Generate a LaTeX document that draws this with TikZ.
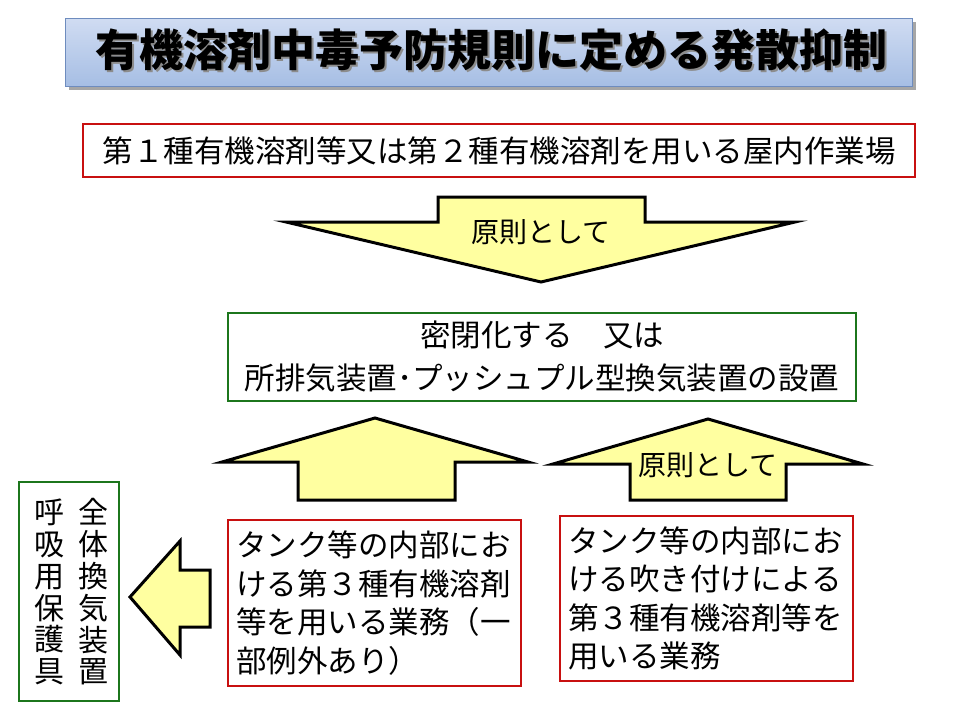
\documentclass[tikz,border=0pt]{standalone}
\usepackage{fontspec}
\setmainfont{Noto Sans CJK JP}
\definecolor{boxred}{RGB}{200,16,16}
\definecolor{boxgreen}{RGB}{28,118,28}
\definecolor{arrowyellow}{RGB}{255,255,160}
\definecolor{titletop}{RGB}{208,220,242}
\definecolor{titlebot}{RGB}{166,190,228}
\definecolor{titleedge}{RGB}{110,140,190}
\newcommand\titlefont{\fontsize{44}{48}\selectfont\bfseries}
\newcommand\boxfont{\fontsize{30.5}{38.5}\selectfont}
\newcommand\arrowfont{\fontsize{28}{32}\selectfont}
\tikzset{
  redbox/.style={draw=boxred, line width=2.5pt, fill=white},
  greenbox/.style={draw=boxgreen, line width=2.5pt, fill=white},
  blockarrow/.style={draw=black, line width=3pt, fill=arrowyellow, line join=miter},
}

\begin{document}
\begin{tikzpicture}[x=1pt,y=-1pt]
\useasboundingbox (0,0) rectangle (960,720);

% title bar
\fill [black!35] (69,22) rectangle (916,90);
\shade [top color=titletop, bottom color=titlebot, draw=titleedge, line width=1pt]
  (65,18) rectangle (912,86);
\node [text=black!45, font=\titlefont] at (493,52) {有機溶剤中毒予防規則に定める発散抑制};
\node (title) [font=\titlefont] at (491,50) {有機溶剤中毒予防規則に定める発散抑制};

% workplace
\node (place) [redbox, minimum width=832pt, minimum height=53pt, font=\boxfont]
  at (499,150.5) {第１種有機溶剤等又は第２種有機溶剤を用いる屋内作業場};

% down arrow
\filldraw [blockarrow] (438,197) -- (645,197) -- (645,222) -- (795,222)
  -- (541,282) -- (286,222) -- (438,222) -- cycle;
\node (rule1) [font=\arrowfont] at (541,232) {原則として};

% main measure
\node (measure) [greenbox, minimum width=628pt, minimum height=88pt,
  align=center, inner sep=0pt, font=\fontsize{30.5}{43}\selectfont] at (542,357)
  {密閉化する　又は\\所排気装置･プッシュプル型換気装置の設置};

% up arrows
\filldraw [blockarrow] (298,500) -- (298,462) -- (222,462) -- (375,418)
  -- (528,462) -- (455,462) -- (455,500) -- cycle;
\filldraw [blockarrow] (630,500) -- (630,464) -- (553,464) -- (708,419)
  -- (863,464) -- (786,464) -- (786,500) -- cycle;
\node (rule2) [font=\arrowfont] at (708,465) {原則として};

% exceptions
\node (tankA) [redbox, minimum height=166pt, text width=277pt, inner xsep=8pt,
  align=left, font=\boxfont] at (374.5,603)
  {タンク等の内部にお\\ける第３種有機溶剤\\等を用いる業務（一\\部例外あり）};
\node (tankB) [redbox, minimum height=165pt, text width=277pt, inner xsep=8pt,
  align=left, font=\boxfont] at (706.5,598.5)
  {タンク等の内部にお\\ける吹き付けによる\\第３種有機溶剤等を\\用いる業務};

% left arrow
\filldraw [blockarrow] (210,570) -- (180,570) -- (180,541) -- (130,597)
  -- (180,655) -- (180,627) -- (210,627) -- cycle;

% alternative
\node (alt) [greenbox, minimum width=100pt, minimum height=219pt] at (69,591.5) {};
\node (altA) [align=center, font=\fontsize{30}{31.8}\selectfont] at (93,592)
  {全\\体\\換\\気\\装\\置};
\node (altB) [align=center, font=\fontsize{30}{31.8}\selectfont] at (49,592)
  {呼\\吸\\用\\保\\護\\具};
\end{tikzpicture}
\end{document}
